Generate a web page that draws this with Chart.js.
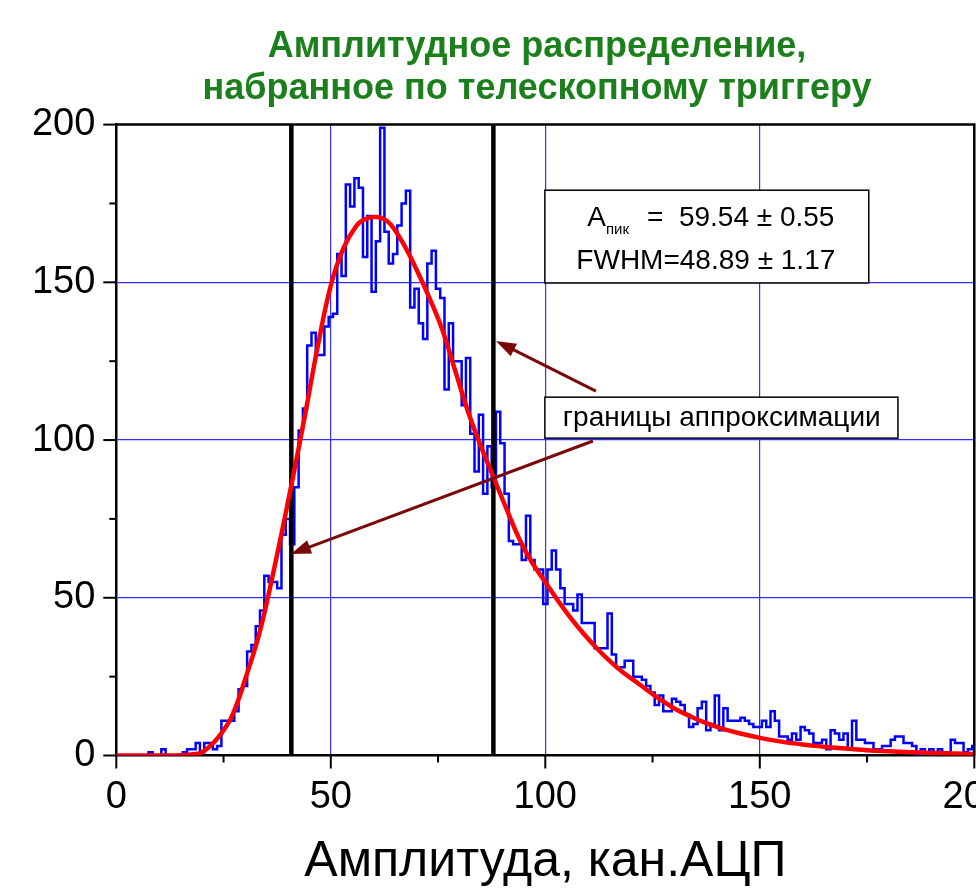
<!DOCTYPE html>
<html>
<head>
<meta charset="utf-8">
<script src="https://cdn.jsdelivr.net/npm/chart.js@4"></script>
<style>
  html, body { margin: 0; padding: 0; background: #fff; }
  canvas { display: block; }
</style>
</head>
<body>
<canvas id="ampChart" width="976" height="893"></canvas>
<script>
// Histogram: counts per ADC channel (bin centred on channel 0..200)
const counts = [
    0, 0, 0, 0, 0, 0, 0, 0, 1, 0,
    0, 2, 0, 0, 0, 0, 1, 2, 2, 4,
    1, 4, 4, 2, 3, 11, 11, 11, 14, 21,
    22, 33, 35, 41, 46, 57, 55, 55, 53, 70,
    75, 67, 85, 103, 110, 130, 134, 127, 127, 136,
    139, 140, 159, 152, 181, 174, 183, 180, 158, 171,
    147, 163, 199, 166, 156, 159, 168, 175, 179, 142,
    148, 137, 132, 156, 160, 148, 145, 116, 137, 125,
    125, 111, 126, 102, 90, 108, 83, 98, 85, 109,
    99, 83, 68, 67, 67, 62, 76, 62, 59, 59,
    48, 59, 65, 59, 53, 48, 48, 46, 51, 42,
    42, 42, 34, 34, 34, 45, 32, 28, 28, 30,
    30, 25, 25, 24, 22, 20, 16, 19, 14, 14,
    18, 17, 16, 13, 9, 10, 15, 17, 8, 10,
    19, 8, 15, 11, 11, 11, 12, 11, 10, 9,
    9, 11, 9, 14, 11, 6, 6, 5, 7, 5,
    9, 8, 7, 4, 4, 5, 2, 8, 7, 5,
    7, 2, 11, 5, 5, 4, 4, 2, 2, 3,
    3, 5, 6, 6, 4, 4, 3, 0, 2, 1,
    2, 1, 2, 1, 1, 5, 4, 4, 1, 2,
    3
];

// Fit curve (red)
const fitX = [0, 5, 10, 15, 18, 20, 23, 26, 28, 30, 33, 35, 38, 41, 44, 47, 50, 53, 56, 58, 60, 62,
              64, 67, 70, 73, 76, 79, 82, 85, 88, 91, 94, 97, 100, 103, 106, 109, 112, 115, 118,
              122, 126, 130, 134, 138, 142, 146, 150, 155, 160, 165, 170, 175, 180, 185, 190, 195, 200];
const fitY = [0, 0, 0, 0.1, 0.4, 1, 4.5, 10, 16, 24, 37, 48, 67, 87, 108, 130, 149, 161, 168, 170, 170.7, 170.3,
              168.3, 162, 154, 145, 135, 122, 109, 98, 88, 78, 68.5, 61, 55, 49, 43.5, 38.5, 34, 30, 26.5,
              22.5, 18.5, 15, 12.3, 10, 8.2, 6.8, 5.6, 4.4, 3.5, 2.8, 2.2, 1.7, 1.35, 1.05, 0.8, 0.65, 0.5];

// Fit range boundaries (channels)
const boundaries = [40.8, 87.9];

const titleLines = ['Амплитудное распределение,', 'набранное по телескопному триггеру'];
const xTitle = 'Амплитуда, кан.АЦП';
const fitLabelValue = '=  59.54 \u00B1 0.55';
const fwhmLabel = 'FWHM=48.89 \u00B1 1.17';
const rangeLabel = 'границы аппроксимации';

// Annotation placement in data units
const notes = {
    fitBox: { x0: 99.9, x1: 175.4, y0: 179.2, y1: 149.8 },
    rangeBox: { x0: 99.9, x1: 182.2, y0: 113.6, y1: 100.6 },
    arrows: [
        { fromX: 111.8, fromY: 115.5, toX: 88.5, toY: 131.4 },
        { fromX: 111.1, fromY: 99.7, toX: 40.7, toY: 63.9 }
    ]
};

const FONT = '"Liberation Sans", Arial, sans-serif';
const arrowColor = '#7a0a0a';

function drawArrow(ctx, x1, y1, x2, y2) {
    const ang = Math.atan2(y2 - y1, x2 - x1);
    const len = 20, half = 7;
    ctx.save();
    ctx.strokeStyle = arrowColor;
    ctx.fillStyle = arrowColor;
    ctx.lineWidth = 3;
    ctx.beginPath();
    ctx.moveTo(x1, y1);
    ctx.lineTo(x2 - Math.cos(ang) * len * 0.8, y2 - Math.sin(ang) * len * 0.8);
    ctx.stroke();
    ctx.beginPath();
    ctx.moveTo(x2, y2);
    ctx.lineTo(x2 - Math.cos(ang) * len + Math.sin(ang) * half, y2 - Math.sin(ang) * len - Math.cos(ang) * half);
    ctx.lineTo(x2 - Math.cos(ang) * len - Math.sin(ang) * half, y2 - Math.sin(ang) * len + Math.cos(ang) * half);
    ctx.closePath();
    ctx.fill();
    ctx.restore();
}

function boxRect(chart, b) {
    const xs = chart.scales.x, ys = chart.scales.y;
    const l = xs.getPixelForValue(b.x0), r = xs.getPixelForValue(b.x1);
    const t = ys.getPixelForValue(b.y0), bt = ys.getPixelForValue(b.y1);
    return { l: l, t: t, w: r - l, h: bt - t };
}

const decorPlugin = {
    id: 'decor',
    beforeDraw(chart) {
        const ctx = chart.ctx;
        ctx.save();
        ctx.fillStyle = '#fff';
        ctx.fillRect(0, 0, chart.width, chart.height);
        ctx.restore();
    },
    afterDraw(chart) {
        const ctx = chart.ctx;
        const area = chart.chartArea;
        const xs = chart.scales.x, ys = chart.scales.y;

        // frame top + right
        ctx.save();
        ctx.strokeStyle = '#000';
        ctx.lineWidth = 2.5;
        ctx.beginPath();
        ctx.moveTo(area.left, area.top);
        ctx.lineTo(area.right, area.top);
        ctx.lineTo(area.right, area.bottom);
        ctx.stroke();

        // ticks, outward, major every 50 and minor every 25
        ctx.lineWidth = 2;
        for (let v = 0; v <= 200; v += 25) {
            const major = v % 50 === 0;
            const px = xs.getPixelForValue(v);
            ctx.beginPath();
            ctx.moveTo(px, area.bottom);
            ctx.lineTo(px, area.bottom + (major ? 13 : 7));
            ctx.stroke();
            const py = ys.getPixelForValue(v);
            ctx.beginPath();
            ctx.moveTo(area.left, py);
            ctx.lineTo(area.left - (major ? 13 : 7), py);
            ctx.stroke();
        }

        // title
        ctx.fillStyle = '#1b7f1b';
        ctx.font = 'bold 36px ' + FONT;
        ctx.textAlign = 'center';
        ctx.textBaseline = 'alphabetic';
        ctx.fillText(titleLines[0], 537, 57);
        ctx.fillText(titleLines[1], 537, 99);

        // fit result box
        const fb = boxRect(chart, notes.fitBox);
        ctx.fillStyle = '#fff';
        ctx.fillRect(fb.l, fb.t, fb.w, fb.h);
        ctx.strokeStyle = '#000';
        ctx.lineWidth = 1.5;
        ctx.strokeRect(fb.l, fb.t, fb.w, fb.h);

        ctx.fillStyle = '#000';
        ctx.textAlign = 'left';
        const big = '28px ' + FONT, small = '15px ' + FONT;
        ctx.font = big;
        const wA = ctx.measureText('А').width;
        const wV = ctx.measureText(fitLabelValue).width;
        ctx.font = small;
        const wSub = ctx.measureText('пик').width;
        const gap = 18;
        let x = fb.l + (fb.w - (wA + wSub + gap + wV)) / 2 + 4;
        const base1 = fb.t + fb.h * 0.39;
        ctx.font = big;
        ctx.fillText('А', x, base1);
        x += wA;
        ctx.font = small;
        ctx.fillText('пик', x, base1 + 8);
        x += wSub + gap;
        ctx.font = big;
        ctx.fillText(fitLabelValue, x, base1);
        ctx.textAlign = 'center';
        ctx.fillText(fwhmLabel, fb.l + fb.w / 2 - 1, fb.t + fb.h * 0.85);

        // range label box
        const rb = boxRect(chart, notes.rangeBox);
        ctx.fillStyle = '#fff';
        ctx.fillRect(rb.l, rb.t, rb.w, rb.h);
        ctx.strokeRect(rb.l, rb.t, rb.w, rb.h);
        ctx.fillStyle = '#000';
        ctx.font = '28px ' + FONT;
        ctx.textAlign = 'left';
        ctx.fillText(rangeLabel, rb.l + 18, rb.t + rb.h * 0.7);
        ctx.restore();

        // arrows
        notes.arrows.forEach(a => {
            drawArrow(ctx,
                xs.getPixelForValue(a.fromX), ys.getPixelForValue(a.fromY),
                xs.getPixelForValue(a.toX), ys.getPixelForValue(a.toY));
        });
    }
};

const histData = counts.map((c, i) => ({ x: i, y: c }));
const fitData = fitX.map((x, i) => ({ x: x, y: fitY[i] }));

const datasets = [
    {
        label: 'fit',
        data: fitData,
        borderColor: '#ff0000',
        borderWidth: 4.5,
        tension: 0.4,
        pointRadius: 0,
        order: 0
    }
];
boundaries.forEach(b => {
    datasets.push({
        label: 'boundary',
        data: [{ x: b, y: 0 }, { x: b, y: 200 }],
        borderColor: '#000',
        borderWidth: 4.5,
        pointRadius: 0,
        order: 1
    });
});
datasets.push({
    label: 'counts',
    data: histData,
    borderColor: '#0000ff',
    borderWidth: 2.5,
    stepped: 'middle',
    pointRadius: 0,
    order: 2
});

const gridColor = ctx => {
    const v = ctx.tick ? ctx.tick.value : null;
    return (v !== null && v % 50 === 0 && v > 0 && v < 200) ? '#3030ff' : 'rgba(0,0,0,0)';
};

new Chart(document.getElementById('ampChart'), {
    type: 'line',
    data: { datasets: datasets },
    options: {
        responsive: false,
        devicePixelRatio: 1,
        animation: false,
        layout: { padding: { top: 124.6, right: 1.7, left: 0, bottom: 0 } },
        plugins: {
            legend: { display: false },
            tooltip: { enabled: false },
            title: { display: false }
        },
        scales: {
            x: {
                type: 'linear',
                min: 0,
                max: 200,
                border: { color: '#000', width: 2.5 },
                grid: { color: gridColor, lineWidth: 1.2, drawTicks: false },
                ticks: {
                    stepSize: 25,
                    autoSkip: false,
                    maxRotation: 0,
                    padding: 19,
                    color: '#000',
                    font: { family: FONT, size: 38 },
                    callback: v => (v % 50 === 0 ? v : '')
                },
                title: {
                    display: true,
                    text: xTitle,
                    color: '#000',
                    font: { family: FONT, size: 50 },
                    padding: { top: 0, bottom: 1 }
                },
                afterFit(scale) {
                    scale.height = 137.5;
                    scale.paddingLeft = 0;
                    scale.paddingRight = 0;
                }
            },
            y: {
                type: 'linear',
                min: 0,
                max: 200,
                border: { color: '#000', width: 2.5 },
                grid: { color: gridColor, lineWidth: 1.2, drawTicks: false },
                ticks: {
                    stepSize: 25,
                    autoSkip: false,
                    padding: 21,
                    color: '#000',
                    font: { family: FONT, size: 38 },
                    callback: v => (v % 50 === 0 ? v : '')
                },
                afterFit(scale) {
                    scale.width = 116.3;
                }
            }
        }
    },
    plugins: [decorPlugin]
});
</script>
</body>
</html>
